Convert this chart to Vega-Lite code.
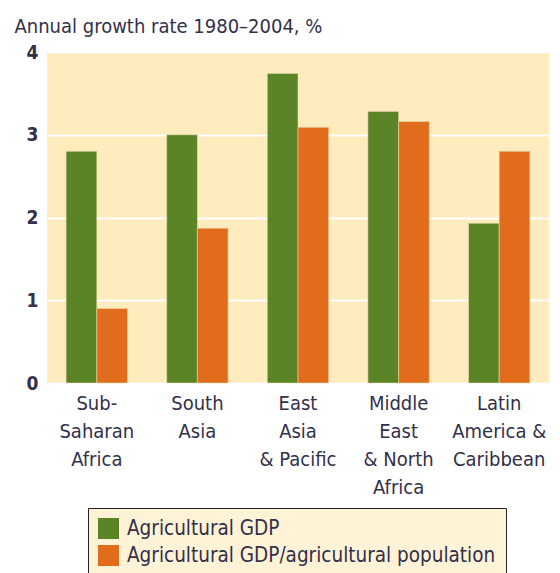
{
  "$schema": "https://vega.github.io/schema/vega-lite/v6.json",
  "autosize": {"type": "none"},
  "width": 502,
  "height": 331,
  "padding": {"left": 47, "top": 52, "right": 11, "bottom": 190},
  "background": "#ffffff",
  "config": {
    "view": {"fill": "#FEEBBE", "stroke": null},
    "font": "DejaVu Sans Condensed"
  },
  "data": {
    "values": [
      {"region": "Sub-|Saharan|Africa", "series": "Agricultural GDP", "rate": 2.80},
      {"region": "Sub-|Saharan|Africa", "series": "Agricultural GDP/agricultural population", "rate": 0.90},
      {"region": "South|Asia", "series": "Agricultural GDP", "rate": 3.00},
      {"region": "South|Asia", "series": "Agricultural GDP/agricultural population", "rate": 1.87},
      {"region": "East|Asia|& Pacific", "series": "Agricultural GDP", "rate": 3.74},
      {"region": "East|Asia|& Pacific", "series": "Agricultural GDP/agricultural population", "rate": 3.09},
      {"region": "Middle|East|& North|Africa", "series": "Agricultural GDP", "rate": 3.28},
      {"region": "Middle|East|& North|Africa", "series": "Agricultural GDP/agricultural population", "rate": 3.16},
      {"region": "Latin|America &|Caribbean", "series": "Agricultural GDP", "rate": 1.93},
      {"region": "Latin|America &|Caribbean", "series": "Agricultural GDP/agricultural population", "rate": 2.80}
    ]
  },
  "mark": {"type": "bar", "stroke": "#E8D9A8", "strokeWidth": 0.6},
  "encoding": {
    "x": {
      "field": "region",
      "type": "nominal",
      "sort": null,
      "scale": {"paddingInner": 0.39, "paddingOuter": 0.19},
      "axis": {
        "title": null,
        "labelAngle": 0,
        "labelExpr": "split(datum.label, '|')",
        "labelFont": "DejaVu Sans Condensed",
        "labelFontSize": 20,
        "labelColor": "#33304a",
        "labelLineHeight": 28,
        "labelBaseline": "top",
        "labelPadding": 10,
        "domain": false,
        "ticks": false,
        "labelLimit": 200
      }
    },
    "xOffset": {"field": "series", "sort": null},
    "y": {
      "field": "rate",
      "type": "quantitative",
      "scale": {"domain": [0, 4], "nice": false},
      "axis": {
        "values": [0, 1, 2, 3, 4],
        "title": "Annual growth rate 1980\u20132004, %",
        "titleAngle": 0,
        "titleAlign": "left",
        "titleBaseline": "alphabetic",
        "titleX": -33,
        "titleY": -20,
        "titleFont": "DejaVu Sans Condensed",
        "titleFontSize": 20,
        "titleFontWeight": "normal",
        "titleColor": "#33304a",
        "labelFont": "DejaVu Sans Condensed",
        "labelFontSize": 19,
        "labelFontWeight": "bold",
        "labelColor": "#33304a",
        "labelPadding": 9,
        "labelBaseline": "middle",
        "labelDy": 4,
        "domain": false,
        "ticks": false,
        "grid": true,
        "gridColor": "#ffffff",
        "gridWidth": 2
      }
    },
    "color": {
      "field": "series",
      "type": "nominal",
      "sort": null,
      "scale": {"range": ["#5B8426", "#E06C1C"]},
      "legend": {
        "title": null,
        "orient": "none",
        "legendX": 41,
        "legendY": 456,
        "direction": "vertical",
        "symbolType": "square",
        "symbolSize": 441,
        "symbolStrokeWidth": 0,
        "labelFont": "DejaVu Sans Condensed",
        "labelFontSize": 20.5,
        "labelColor": "#33304a",
        "labelOffset": 8,
        "labelLimit": 500,
        "rowPadding": 6,
        "padding": 10,
        "fillColor": "#FEF3D6",
        "strokeColor": "#222222",
        "cornerRadius": 0,
        "encode": {"legend": {"update": {"strokeWidth": {"value": 2}}}}
      }
    }
  }
}
